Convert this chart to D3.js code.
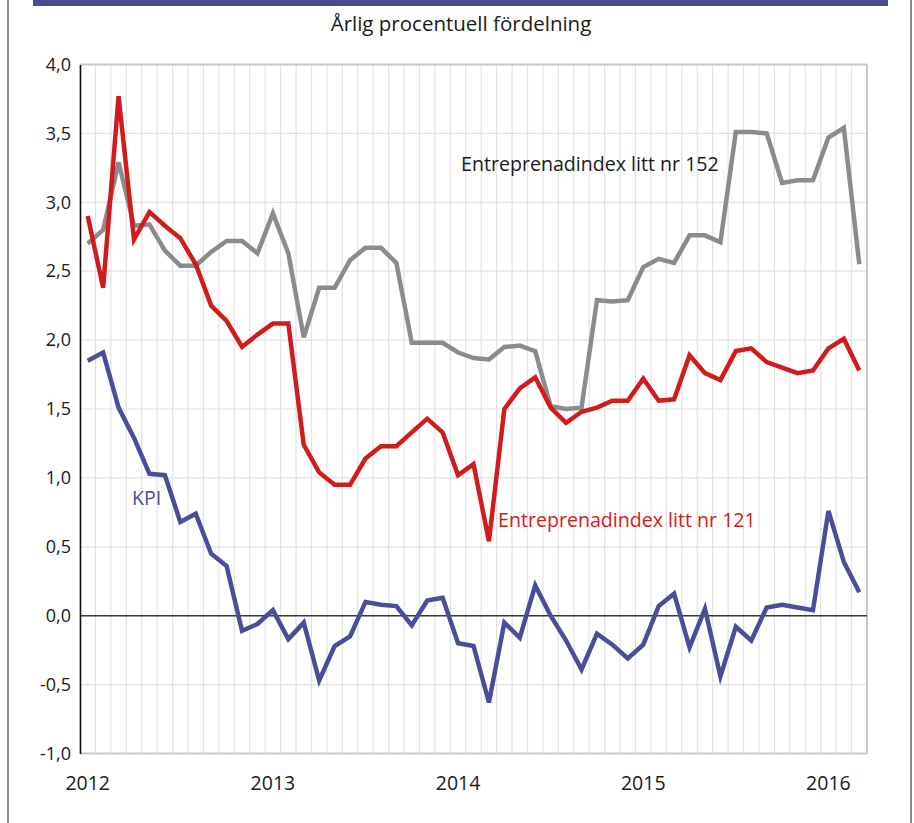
<!DOCTYPE html>
<html>
<head lang="sv">
	<meta charset="UTF-8">
	<title>Årlig procentuell fördelning</title>
	<script src="https://d3js.org/d3.v7.min.js"></script>
	<style type="text/css">
		body { margin: 0; background: #fff; }
		svg text { font-family: "Open Sans", Lato, sans-serif; }
	</style>
</head>
<body>
	<svg id="chart" width="914" height="823" version="1.1" xmlns="http://www.w3.org/2000/svg"></svg>
	<script type="text/javascript">
		// monthly values, Jan 2012 - Mar 2016
		var kpi = [1.85, 1.91, 1.51, 1.29, 1.03, 1.02, 0.68, 0.74, 0.45, 0.36, -0.11, -0.06,
			0.04, -0.17, -0.05, -0.47, -0.22, -0.15, 0.10, 0.08, 0.07, -0.07, 0.11, 0.13,
			-0.20, -0.22, -0.63, -0.05, -0.16, 0.22, 0.00, -0.18, -0.39, -0.13, -0.21, -0.31,
			-0.21, 0.07, 0.16, -0.23, 0.05, -0.44, -0.08, -0.18, 0.06, 0.08, 0.06, 0.04,
			0.76, 0.39, 0.17];
		var litt121 = [2.90, 2.38, 3.77, 2.73, 2.93, 2.83, 2.74, 2.55, 2.25, 2.14, 1.95, 2.04,
			2.12, 2.12, 1.24, 1.04, 0.95, 0.95, 1.14, 1.23, 1.23, 1.33, 1.43, 1.33,
			1.02, 1.10, 0.54, 1.50, 1.65, 1.73, 1.51, 1.40, 1.48, 1.51, 1.56, 1.56,
			1.72, 1.56, 1.57, 1.89, 1.76, 1.71, 1.92, 1.94, 1.84, 1.80, 1.76, 1.78,
			1.94, 2.01, 1.78];
		var litt152 = [2.70, 2.80, 3.29, 2.83, 2.84, 2.65, 2.54, 2.54, 2.64, 2.72, 2.72, 2.63,
			2.92, 2.63, 2.02, 2.38, 2.38, 2.58, 2.67, 2.67, 2.56, 1.98, 1.98, 1.98,
			1.91, 1.87, 1.86, 1.95, 1.96, 1.92, 1.52, 1.50, 1.51, 2.29, 2.28, 2.29,
			2.53, 2.59, 2.56, 2.76, 2.76, 2.71, 3.51, 3.51, 3.50, 3.14, 3.16, 3.16,
			3.47, 3.54, 2.55];
		var yTicks = [-1.0, -0.5, 0.0, 0.5, 1.0, 1.5, 2.0, 2.5, 3.0, 3.5, 4.0];
		var years = ["2012", "2013", "2014", "2015", "2016"];

		(function () {
			var months = d3.timeMonth.range(new Date(2012, 0, 1), new Date(2016, 3, 1));
			var keys = months.map(d3.timeFormat("%Y-%m"));

			var pLeft = 80, pRight = 867, pTop = 64.5, pBottom = 753.5;
			var svg = d3.select('#chart');

			var x = d3.scaleBand().domain(keys).range([pLeft, pRight]).padding(0);
			var y = d3.scaleLinear().domain([-1, 4]).range([pBottom, pTop]);

			// frame
			svg.append('rect').attr('x', 33).attr('y', 0).attr('width', 855).attr('height', 6).attr('fill', '#474b8f');
			svg.append('line').attr('x1', 8).attr('x2', 8).attr('y1', 0).attr('y2', 823).attr('stroke', '#8a8a8a').attr('stroke-width', 2);
			svg.append('line').attr('x1', 911).attr('x2', 911).attr('y1', 0).attr('y2', 823).attr('stroke', '#8a8a8a').attr('stroke-width', 2);

			svg.append('text').attr('x', 461).attr('y', 31).attr('text-anchor', 'middle')
				.attr('font-size', 20.5).attr('fill', '#1a1a1a').text('Årlig procentuell fördelning');

			// grid
			var vx = keys.map(function (k) { return x(k); }).concat([pRight]);
			svg.append('g').selectAll('line').data(vx).enter().append('line')
				.attr('x1', function (d) { return d; }).attr('x2', function (d) { return d; })
				.attr('y1', pTop).attr('y2', pBottom)
				.attr('stroke', '#e2e2e2').attr('stroke-width', 1.2);
			svg.append('g').selectAll('line').data(yTicks).enter().append('line')
				.attr('x1', pLeft).attr('x2', pRight)
				.attr('y1', function (d) { return y(d); }).attr('y2', function (d) { return y(d); })
				.attr('stroke', '#e2e2e2').attr('stroke-width', 1.2);

			// plot border
			svg.append('line').attr('x1', pLeft).attr('x2', pRight).attr('y1', pTop).attr('y2', pTop).attr('stroke', '#c8c8c8').attr('stroke-width', 2);
			svg.append('line').attr('x1', pRight).attr('x2', pRight).attr('y1', pTop).attr('y2', pBottom).attr('stroke', '#c8c8c8').attr('stroke-width', 2);
			svg.append('line').attr('x1', pLeft).attr('x2', pRight).attr('y1', pBottom).attr('y2', pBottom).attr('stroke', '#c8c8c8').attr('stroke-width', 2);

			// zero line
			svg.append('line').attr('x1', pLeft).attr('x2', pRight).attr('y1', y(0)).attr('y2', y(0))
				.attr('stroke', '#3a3a3a').attr('stroke-width', 1.5);

			// y axis
			var yAxis = d3.axisLeft(y).tickValues(yTicks).tickSize(0).tickPadding(9)
				.tickFormat(function (d) { return d3.format('.1f')(d).replace('.', ',').replace('−', '-'); });
			var gy = svg.append('g').attr('transform', 'translate(' + pLeft + ',0)').call(yAxis);
			gy.select('.domain').attr('stroke', '#111').attr('stroke-width', 1.6);
			gy.selectAll('text').attr('font-size', 18).attr('fill', '#1a1a1a').attr('font-family', 'Lato, sans-serif');

			// x axis: year labels at January
			var xAxis = d3.axisBottom(x).tickValues(years.map(function (yr) { return yr + '-01'; }))
				.tickSize(0).tickPadding(23)
				.tickFormat(function (d) { return d.slice(0, 4); });
			var gx = svg.append('g').attr('transform', 'translate(0,' + pBottom + ')').call(xAxis);
			gx.select('.domain').remove();
			gx.selectAll('text').attr('font-size', 19.5).attr('fill', '#1a1a1a').attr('font-family', 'Lato, sans-serif');

			var line = d3.line()
				.x(function (d, i) { return x(keys[i]) + x.bandwidth() / 2; })
				.y(function (d) { return y(d); });

			var series = [
				{ values: litt152, color: '#8b8b8b' },
				{ values: litt121, color: '#d11c1c' },
				{ values: kpi, color: '#4a4e9a' }
			];
			svg.append('g').selectAll('path').data(series).enter().append('path')
				.attr('d', function (d) { return line(d.values); })
				.attr('fill', 'none')
				.attr('stroke', function (d) { return d.color; })
				.attr('stroke-width', 4.5)
				.attr('stroke-linejoin', 'miter');

			// labels
			svg.append('text').attr('x', 461).attr('y', 171).attr('font-size', 19.6).attr('fill', '#1a1a1a').text('Entreprenadindex litt nr 152');
			svg.append('text').attr('x', 498).attr('y', 527).attr('font-size', 19.6).attr('fill', '#d11c1c').text('Entreprenadindex litt nr 121');
			svg.append('text').attr('x', 132).attr('y', 505).attr('font-size', 19.6).attr('fill', '#4a4e9a').text('KPI');
		})();
	</script>
</body>
</html>
